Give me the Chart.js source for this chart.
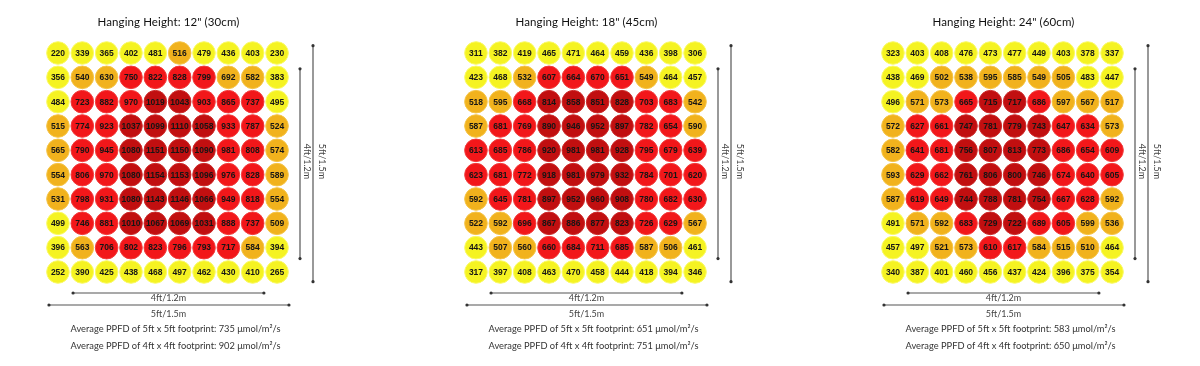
<!DOCTYPE html>
<html>
<head>
<meta charset="utf-8">
<script src="https://cdn.jsdelivr.net/npm/chart.js@4.4.0/dist/chart.umd.min.js"></script>
<style>
  body { margin: 0; width: 1200px; height: 366px; overflow: hidden; background: #fff; font-family: Lato, "Open Sans", sans-serif; }
  .panel { position: absolute; top: 0; width: 365px; height: 366px; }
  .panel canvas { position: absolute; left: 0; top: 0; }
  .title { position: absolute; top: 15px; left: 0; width: 337px; text-align: center; font-size: 11.5px; color: #111; letter-spacing: 0.1px; }
  .dim { position: absolute; font-size: 9px; color: #444; white-space: nowrap; }
  .dimh { left: 0; width: 337px; text-align: center; }
  .dimv { width: 80px; text-align: center; transform: rotate(90deg); }
  .note { position: absolute; left: 7px; width: 337px; text-align: center; font-size: 9.3px; color: #333; }
</style>
</head>
<body>
<div id="wrap"></div>
<script>
// panel titles
const heights = ['12" (30cm)', '18" (45cm)', '24" (60cm)'];
const avg5ft = [735, 651, 583];
const avg4ft = [902, 751, 650];

// PPFD readings, 10 x 10, top row first
const grid12 = [
  [220, 339, 365, 402, 481, 516, 479, 436, 403, 230],
  [356, 540, 630, 750, 822, 828, 799, 692, 582, 383],
  [484, 723, 882, 970, 1019, 1043, 903, 865, 737, 495],
  [515, 774, 923, 1037, 1099, 1110, 1058, 933, 787, 524],
  [565, 790, 945, 1080, 1151, 1150, 1090, 981, 808, 574],
  [554, 806, 970, 1080, 1154, 1153, 1096, 976, 828, 589],
  [531, 798, 931, 1080, 1143, 1146, 1066, 949, 818, 554],
  [499, 746, 881, 1010, 1067, 1069, 1031, 888, 737, 509],
  [396, 563, 706, 802, 823, 796, 793, 717, 584, 394],
  [252, 390, 425, 438, 468, 497, 462, 430, 410, 265]
];
const grid18 = [
  [311, 382, 419, 465, 471, 464, 459, 436, 398, 306],
  [423, 468, 532, 607, 664, 670, 651, 549, 464, 457],
  [518, 595, 668, 814, 858, 851, 828, 703, 683, 542],
  [587, 681, 769, 890, 946, 952, 897, 782, 654, 590],
  [613, 685, 786, 920, 981, 981, 928, 795, 679, 639],
  [623, 681, 772, 918, 981, 979, 932, 784, 701, 620],
  [592, 645, 781, 897, 952, 960, 908, 780, 682, 630],
  [522, 592, 696, 867, 886, 877, 823, 726, 629, 567],
  [443, 507, 560, 660, 684, 711, 685, 587, 506, 461],
  [317, 397, 408, 463, 470, 458, 444, 418, 394, 346]
];
const grid24 = [
  [323, 403, 408, 476, 473, 477, 449, 403, 378, 337],
  [438, 469, 502, 538, 595, 585, 549, 505, 483, 447],
  [496, 571, 573, 665, 715, 717, 686, 597, 567, 517],
  [572, 627, 661, 747, 781, 779, 743, 647, 634, 573],
  [582, 641, 681, 756, 807, 813, 773, 686, 654, 609],
  [593, 629, 662, 761, 806, 800, 746, 674, 640, 605],
  [587, 619, 649, 744, 788, 781, 754, 667, 628, 592],
  [491, 571, 592, 683, 729, 722, 689, 605, 599, 536],
  [457, 497, 521, 573, 610, 617, 584, 515, 510, 464],
  [340, 387, 401, 460, 456, 437, 424, 396, 375, 354]
];
const grids = [grid12, grid18, grid24];

// colour band limits per panel: orange from, red from, dark red from
const bands12 = [500, 700, 1000];
const bands18 = [500, 600, 800];
const bands24 = [500, 600, 700];
const bands = [bands12, bands18, bands24];

const fills = ["#f5f322", "#f1b21d", "#f2171a", "#c10f10"];
const rims = ["#fafa6a", "#f5c548", "#f23c3c", "#cc2a2a"];

function level(v, b) {
  if (v >= b[2]) return 3;
  if (v >= b[1]) return 2;
  if (v >= b[0]) return 1;
  return 0;
}

// numbers inside the circles
const valueLabels = {
  id: "valueLabels",
  afterDatasetsDraw(chart) {
    const ctx = chart.ctx;
    const ds = chart.data.datasets[0];
    ctx.save();
    ctx.font = "bold 8.5px Arial, 'Liberation Sans', sans-serif";
    ctx.fillStyle = "#151515";
    ctx.textAlign = "center";
    ctx.textBaseline = "middle";
    chart.getDatasetMeta(0).data.forEach((pt, i) => {
      ctx.fillText(ds.data[i].v, pt.x, pt.y + 0.5);
    });
    ctx.restore();
  }
};

// footprint measuring lines
function dimLine(ctx, x1, y1, x2, y2) {
  ctx.beginPath();
  ctx.moveTo(x1, y1);
  ctx.lineTo(x2, y2);
  ctx.stroke();
  [[x1, y1], [x2, y2]].forEach(([x, y]) => {
    ctx.beginPath();
    ctx.arc(x, y, 1.6, 0, Math.PI * 2);
    ctx.fill();
  });
}
const dimLines = {
  id: "dimLines",
  afterDraw(chart) {
    const ctx = chart.ctx;
    const xs = chart.scales.x, ys = chart.scales.y;
    ctx.save();
    ctx.strokeStyle = "#555";
    ctx.fillStyle = "#333";
    ctx.lineWidth = 1.2;
    dimLine(ctx, xs.getPixelForValue(1.62), 293, xs.getPixelForValue(9.46), 293);
    dimLine(ctx, xs.getPixelForValue(0.63), 305, xs.getPixelForValue(10.49), 305);
    dimLine(ctx, 300, ys.getPixelForValue(1.65), 300, ys.getPixelForValue(9.45));
    dimLine(ctx, 313, ys.getPixelForValue(0.7), 313, ys.getPixelForValue(10.4));
    ctx.restore();
  }
};

const wrap = document.getElementById("wrap");
const offsets = [0, 418, 835];

grids.forEach((grid, p) => {
  const panel = document.createElement("div");
  panel.className = "panel";
  panel.style.left = offsets[p] + "px";
  panel.innerHTML =
    '<canvas width="365" height="366"></canvas>' +
    '<div class="title">Hanging Height: ' + heights[p] + '</div>' +
    '<div class="dim dimh" style="top:292px">4ft/1.2m</div>' +
    '<div class="dim dimh" style="top:308px">5ft/1.5m</div>' +
    '<div class="dim dimv" style="left:267px;top:156px">4ft/1.2m</div>' +
    '<div class="dim dimv" style="left:282px;top:156px">5ft/1.5m</div>' +
    '<div class="note" style="top:323px">Average PPFD of 5ft x 5ft footprint: ' + avg5ft[p] + ' μmol/m²/s</div>' +
    '<div class="note" style="top:340px">Average PPFD of 4ft x 4ft footprint: ' + avg4ft[p] + ' μmol/m²/s</div>';
  wrap.appendChild(panel);

  const points = [];
  const bg = [];
  const bd = [];
  grid.forEach((row, r) => {
    row.forEach((v, c) => {
      points.push({ x: c + 1, y: r + 1, v: v });
      const l = level(v, bands[p]);
      bg.push(fills[l]);
      bd.push(rims[l]);
    });
  });

  new Chart(panel.querySelector("canvas").getContext("2d"), {
    type: "scatter",
    data: {
      datasets: [{
        data: points,
        backgroundColor: bg,
        borderColor: bd,
        borderWidth: 1,
        pointRadius: 11.3,
        pointHoverRadius: 11.3
      }]
    },
    options: {
      responsive: false,
      animation: false,
      devicePixelRatio: 1,
      layout: { padding: { left: 45.8, right: 75.8, top: 40.85, bottom: 81.85 } },
      plugins: { legend: { display: false }, tooltip: { enabled: false } },
      scales: {
        x: { type: "linear", min: 0.5, max: 10.5, display: false },
        y: { type: "linear", min: 0.5, max: 10.5, reverse: true, display: false }
      }
    },
    plugins: [valueLabels, dimLines]
  });
});
</script>
</body>
</html>
